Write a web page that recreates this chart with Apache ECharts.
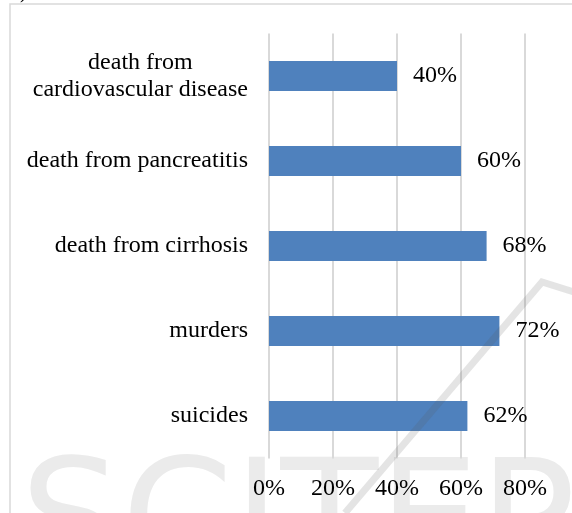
<!DOCTYPE html>
<html>
<head>
<meta charset="utf-8">
<script src="https://cdn.jsdelivr.net/npm/echarts@6/dist/echarts.min.js"></script>
<style>
  html, body { margin: 0; padding: 0; background: #fff; }
  #chart { width: 572px; height: 513px; }
</style>
</head>
<body>
<div id="chart"></div>
<script>
const causes = [
  'death from\ncardiovascular disease',
  'death from pancreatitis',
  'death from cirrhosis',
  'murders',
  'suicides'
]
const shares = [40, 60, 68, 72, 62]
const tickMax = 80
const tickStep = 20

const serif = '"Liberation Serif", "Times New Roman", serif'

const chart = echarts.init(document.getElementById('chart'))

chart.setOption({
  animation: false,
  backgroundColor: '#fff',
  grid: {
    left: 269,
    right: 47,
    top: 33.5,
    bottom: 54.5,
    containLabel: false
  },
  xAxis: {
    type: 'value',
    min: 0,
    max: tickMax,
    interval: tickStep,
    axisLine: { show: false },
    axisTick: { show: false },
    splitLine: { lineStyle: { color: '#d9d9d9', width: 2 } },
    axisLabel: {
      formatter: '{value}%',
      color: '#000',
      fontFamily: serif,
      fontSize: 24,
      margin: 18
    }
  },
  yAxis: {
    type: 'category',
    inverse: true,
    data: causes,
    axisLine: { show: false },
    axisTick: { show: false },
    axisLabel: {
      margin: 21,
      color: '#000',
      fontFamily: serif,
      fontSize: 24,
      lineHeight: 27,
      formatter: value => value.split('\n').map(s => '{c|' + s + '}').join('\n'),
      rich: {
        c: { align: 'center', fontFamily: serif, fontSize: 24, lineHeight: 27, color: '#000' }
      }
    }
  },
  series: [
    {
      type: 'bar',
      data: shares,
      barWidth: 30,
      itemStyle: { color: '#4f81bd' },
      label: {
        show: true,
        position: 'right',
        distance: 16,
        formatter: '{c}%',
        color: '#000',
        fontFamily: serif,
        fontSize: 24
      }
    }
  ],
  graphic: [
    {
      type: 'rect',
      z: -10,
      shape: { x: 10, y: 4, width: 620, height: 600 },
      style: { fill: 'none', stroke: '#d9d9d9', lineWidth: 1.5 }
    },
    {
      type: 'text',
      z: -5,
      left: 20,
      top: 452,
      style: {
        text: 'SCITEPRESS',
        fill: '#ebebeb',
        font: '160px "DejaVu Sans", sans-serif'
      }
    },
    {
      type: 'polyline',
      z: 100,
      shape: { points: [[345, 513], [542, 282], [600, 300]] },
      style: { stroke: 'rgba(90, 90, 90, 0.16)', lineWidth: 7, fill: 'none' }
    },
    {
      type: 'text',
      left: 20,
      top: -17,
      style: { text: ')', fill: '#000', font: '20px "Liberation Serif", serif' }
    }
  ]
})
</script>
</body>
</html>
